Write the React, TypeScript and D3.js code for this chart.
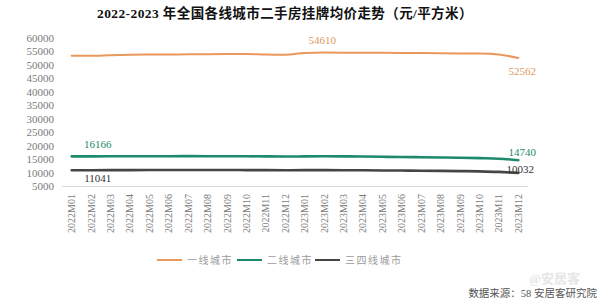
import React from "react";
import * as d3 from "d3";

const categories = [
  "2022M01","2022M02","2022M03","2022M04","2022M05","2022M06","2022M07","2022M08","2022M09","2022M10","2022M11","2022M12",
  "2023M01","2023M02","2023M03","2023M04","2023M05","2023M06","2023M07","2023M08","2023M09","2023M10","2023M11","2023M12",
];
const tier1 = [53400,53380,53650,53800,53850,53900,53950,54000,54050,54050,53850,53800,54450,54610,54580,54550,54500,54450,54400,54350,54300,54250,53900,52562];
const tier2 = [16166,16150,16180,16200,16220,16230,16240,16230,16220,16200,16150,16120,16150,16180,16150,16100,16000,15950,15850,15750,15650,15500,15300,14740];
const tier34 = [11041,11030,11050,11080,11100,11110,11120,11110,11100,11080,11060,11040,11050,11060,11040,11000,10950,10900,10850,10780,10700,10600,10400,10032];
const yTicks = [5000,10000,15000,20000,25000,30000,35000,40000,45000,50000,55000,60000];
const seriesNames = ["一线城市","二线城市","三四线城市"];
const title = "2022-2023 年全国各线城市二手房挂牌均价走势（元/平方米）";
const source = "数据来源：58 安居客研究院";

const W = 600, H = 308;
const FONT = "'Liberation Serif', 'DejaVu Serif', 'Noto Sans CJK SC', serif";
const colors = ["#E8985A", "#1E8A6C", "#454545"];

export default function App() {
  const x = d3.scaleBand<string>().domain(categories).range([62, 528]).padding(0);
  const y = d3.scaleLinear().domain([5000, 60000]).range([186.5, 38]);
  const cx = (c: string) => (x(c) as number) + x.bandwidth() / 2;
  const line = d3.line<number>()
    .x((_, i) => cx(categories[i]))
    .y((d) => y(d))
    .curve(d3.curveMonotoneX);
  const series = [tier1, tier2, tier34];
  const widths = [2, 2.6, 2.6];

  const maxIdx = tier1.indexOf(d3.max(tier1) as number);
  const last = categories.length - 1;
  const labels = [
    { v: tier1[maxIdx], xx: cx(categories[maxIdx]) - 2, yy: y(tier1[maxIdx]) - 12, c: "#E0985E" },
    { v: tier1[last], xx: cx(categories[last]) + 4, yy: y(tier1[last]) + 13.5, c: "#E0985E" },
    { v: tier2[0], xx: cx(categories[0]) + 26, yy: y(tier2[0]) - 12, c: "#1E8A6C" },
    { v: tier34[0], xx: cx(categories[0]) + 26, yy: y(tier34[0]) + 8, c: "#333" },
    { v: tier2[last], xx: cx(categories[last]) + 4, yy: y(tier2[last]) - 8.5, c: "#1E8A6C" },
    { v: tier34[last], xx: cx(categories[last]) + 2, yy: y(tier34[last]) - 3.5, c: "#333" },
  ];

  const legendX = [157, 237, 315];

  return (
    <svg width={W} height={H} style={{ position: "absolute", left: 0, top: 0, background: "#fff" }} fontFamily={FONT}>
      <rect width={W} height={H} fill="#fff" />
      <text x={97} y={18} fontSize={13.5} fontWeight="bold" fill="#111" letterSpacing={0.4}>{title}</text>

      {yTicks.map((t) => (
        <text key={t} x={54} y={y(t)} dy="0.35em" textAnchor="end" fontSize={11} fill="#7a7a7a">{t}</text>
      ))}

      <line x1={62} x2={528} y1={y(5000)} y2={y(5000)} stroke="#d9d9d9" strokeWidth={1} />

      {categories.map((c) => (
        <text key={c} transform={`translate(${cx(c) + 3.5},${194}) rotate(-90)`} textAnchor="end" fontSize={10} fill="#7a7a7a">{c}</text>
      ))}

      {series.map((s, i) => (
        <path key={i} d={line(s) as string} fill="none" stroke={colors[i]} strokeWidth={widths[i]} strokeLinecap="round" />
      ))}

      {labels.map((l, i) => (
        <text key={i} x={l.xx} y={l.yy} dy="0.35em" textAnchor="middle" fontSize={11} fill={l.c}>{l.v}</text>
      ))}

      {seriesNames.map((n, i) => (
        <g key={n}>
          <line x1={legendX[i]} x2={legendX[i] + 25} y1={260} y2={260} stroke={colors[i]} strokeWidth={2} />
          <text x={legendX[i] + 30} y={260} dy="0.35em" fontSize={10} fill="#9a9a9a" letterSpacing={1.5}>{n}</text>
        </g>
      ))}

      <text x={580} y={283} textAnchor="end" fontSize={13} fill="#e6e6e6" fontWeight="bold">@安居客</text>
      <text x={597} y={293} dy="0.35em" textAnchor="end" fontSize={10.5} fill="#555">{source}</text>
    </svg>
  );
}
